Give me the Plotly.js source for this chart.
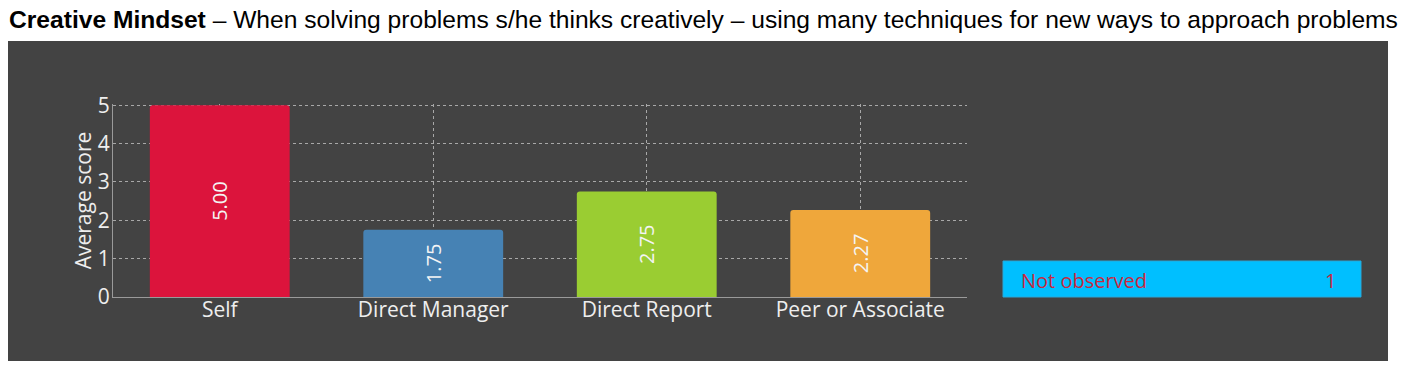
<!DOCTYPE html>
<html>
<head>
<meta charset="utf-8">
<script src="https://cdn.plot.ly/plotly-3.0.1.min.js"></script>
<style>html,body{margin:0;padding:0;background:#fff;}#chart{width:1426px;height:377px;}</style>
</head>
<body>
<div id="chart"></div>
<script>
// ---- data ----
const categories = ["Self", "Direct Manager", "Direct Report", "Peer or Associate"];
const scores = [5.00, 1.75, 2.75, 2.27];
const barColors = ["#DC143C", "#4682B4", "#9ACD32", "#EFA73B"];
const yTicks = [0, 1, 2, 3, 4, 5];
const notObservedLabels = ["Not observed"];
const notObservedCounts = [1];
const titleBold = "Creative Mindset";
const titleRest = " – When solving problems s/he thinks creatively – using many techniques for new ways to approach problems";

// ---- layout geometry (pixels) ----
const W = 1426, H = 377;
const plotL = 113, plotR = 967, plotT = 104, plotB = 297;
const pw = plotR - plotL, ph = plotB - plotT;
const px = x => (x - plotL) / pw;
const py = y => (plotB - y) / ph;

const panelColor = "#434343";
const textColor = "#eeeeee";
const gridColor = "#a8a8a8";
const font = "Open Sans, sans-serif";

const trace = {
  type: "bar",
  x: categories,
  y: scores,
  width: 0.655,
  marker: { color: barColors, cornerradius: 3, line: { width: 0 } },
  texttemplate: "%{y:.2f}",
  textposition: "inside",
  insidetextanchor: "middle",
  textangle: -90,
  insidetextfont: { family: font, size: 20, color: "#f4f4f4" },
  hoverinfo: "x+y",
  cliponaxis: false
};

const shapes = [
  { type: "rect", xref: "paper", yref: "paper", layer: "below",
    x0: px(8), x1: px(1388), y0: py(361), y1: py(41),
    fillcolor: panelColor, line: { width: 0 } },
  { type: "rect", xref: "paper", yref: "paper", layer: "above",
    x0: px(1003), x1: px(1361), y0: py(297), y1: py(261),
    fillcolor: "#00BFFF", line: { color: "#2aa8d8", width: 1 } }
];

const annotations = [
  { xref: "paper", yref: "paper", x: px(1019), y: py(280), xanchor: "left", yanchor: "middle",
    text: notObservedLabels[0], showarrow: false,
    font: { family: font, size: 20, color: "#C9283E" } },
  { xref: "paper", yref: "paper", x: px(1330), y: py(280), xanchor: "center", yanchor: "middle",
    text: String(notObservedCounts[0]), showarrow: false,
    font: { family: font, size: 20, color: "#C9283E" } }
];

const layout = {
  width: W, height: H,
  paper_bgcolor: "#ffffff",
  plot_bgcolor: "rgba(0,0,0,0)",
  margin: { l: plotL, r: W - plotR, t: plotT, b: H - plotB, pad: 0 },
  showlegend: false,
  title: {
    text: "<b>" + titleBold + "</b>" + titleRest,
    xref: "container", yref: "container",
    x: 9 / W, xanchor: "left",
    y: 1 - 19 / H, yanchor: "middle",
    font: { family: "Liberation Sans, Arial, sans-serif", size: 24.6, color: "#000000" }
  },
  xaxis: {
    type: "category",
    range: [-0.5, 3.5],
    showgrid: true, gridcolor: gridColor, griddash: "dot", gridwidth: 1,
    showline: true, linecolor: "#9a9a9a", linewidth: 1,
    ticks: "", zeroline: false,
    ticklabelstandoff: -6,
    tickfont: { family: font, size: 21, color: textColor },
    automargin: false
  },
  yaxis: {
    range: [0, 5.03],
    tickvals: yTicks,
    ticktext: yTicks.map(String),
    showgrid: true, gridcolor: gridColor, griddash: "dot", gridwidth: 1,
    showline: true, linecolor: "#9a9a9a", linewidth: 1,
    zeroline: false,
    ticks: "", ticklabelstandoff: -2,
    tickfont: { family: font, size: 21, color: textColor },
    title: { text: "Average score", standoff: 0,
      font: { family: font, size: 21, color: textColor } },
    automargin: false
  },
  shapes: shapes,
  annotations: annotations
};

Plotly.newPlot("chart", [trace], layout, { displayModeBar: false, staticPlot: true });
</script>
</body>
</html>
